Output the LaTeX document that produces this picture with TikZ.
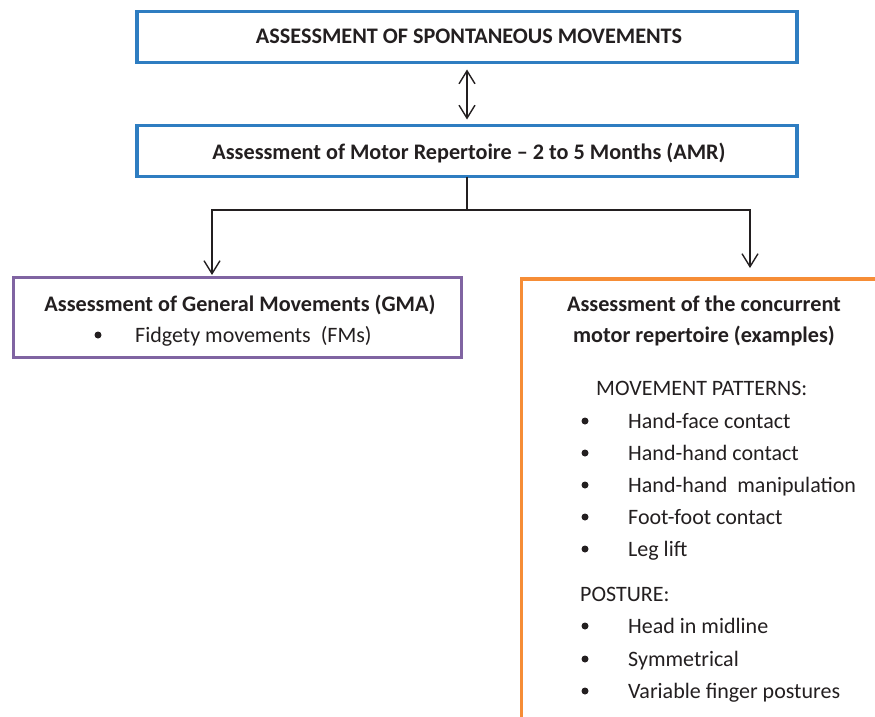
\documentclass[tikz,border=0pt]{standalone}
\usepackage{fontspec}
\setmainfont{Carlito}
\usetikzlibrary{arrows.meta}

\definecolor{boxblue}{HTML}{2E7DC1}
\definecolor{boxpurple}{HTML}{8064A2}
\definecolor{boxorange}{HTML}{F68D36}
\definecolor{ink}{HTML}{231F20}

\tikzset{
  frame/.style={draw, line width=3.8pt, inner sep=0pt, outer sep=0pt, fill=white},
  bluebox/.style={frame, draw=boxblue},
  purplebox/.style={frame, draw=boxpurple},
  orangebox/.style={frame, draw=boxorange},
  title/.style={font=\fontsize{22.2}{26}\selectfont\bfseries, text=ink, inner sep=0pt, anchor=base},
  txt/.style={font=\fontsize{22}{26}\selectfont, text=ink, inner sep=0pt, anchor=base west},
  dot/.style={circle, fill=ink, inner sep=0pt, minimum size=7pt},
  barb/.tip={Straight Barb[length=13pt,width=16pt,line width=1.4pt]},
  link/.style={draw=ink, line width=1.4pt, -barb},
}

\begin{document}
\begin{tikzpicture}[x=1pt, y=-1pt]
  \useasboundingbox (0,0) rectangle (875,717);
  \clip (0,0) rectangle (875,717);

  % boxes
  \node[bluebox, minimum width=660pt, minimum height=51pt] (top) at (467,37) {};
  \node[bluebox, minimum width=660pt, minimum height=51pt] (amr) at (467,151) {};
  \node[purplebox, minimum width=448pt, minimum height=80pt] (gma) at (237.5,317.5) {};
  \node[orangebox, minimum width=420pt, minimum height=500pt] (conc) at (731.5,529) {};

  % box titles
  \node[title] (ttop) at (469,44) {ASSESSMENT OF SPONTANEOUS MOVEMENTS};
  \node[title] (tamr) at (469,159) {Assessment of Motor Repertoire -- 2 to 5 Months (AMR)};
  \node[title] (tgma) at (240,311) {Assessment of General Movements (GMA)};
  \node[title] (tc1) at (704,311) {Assessment of the concurrent};
  \node[title] (tc2) at (704,342) {motor repertoire (examples)};

  % general movements item
  \node[dot] (bg) at (98,335) {};
  \node[txt] (ig) at (135,342) {Fidgety movements \ (FMs)};

  % concurrent repertoire lists
  \node[txt] (hmp) at (596,395) {MOVEMENT PATTERNS:};
  \foreach \y/\t [count=\i] in {428/Hand-face contact, 460/Hand-hand contact,
      492/Hand-hand \ manipulation, 524/Foot-foot contact, 556/Leg lift}{
    \node[dot] (bm\i) at (585,\y-7) {};
    \node[txt] (im\i) at (628,\y) {\t};
  }
  \node[txt] (hpo) at (580,601) {POSTURE:};
  \foreach \y/\t [count=\i] in {633/Head in midline, 666/Symmetrical,
      698/Variable finger postures}{
    \node[dot] (bp\i) at (585,\y-7) {};
    \node[txt] (ip\i) at (628,\y) {\t};
  }

  % connectors
  \coordinate (split) at (467,210);
  \coordinate (gmatip) at (212,275);
  \coordinate (conctip) at (750,268);
  \draw[draw=ink, line width=1.4pt, barb-barb]
    ([yshift=-7pt]top.south) -- ([yshift=6pt]amr.north);
  \draw[draw=ink, line width=1.4pt] (amr.south) -- (split);
  \draw[link] (split) -| (gmatip);
  \draw[link] (split) -| (conctip);
\end{tikzpicture}
\end{document}
